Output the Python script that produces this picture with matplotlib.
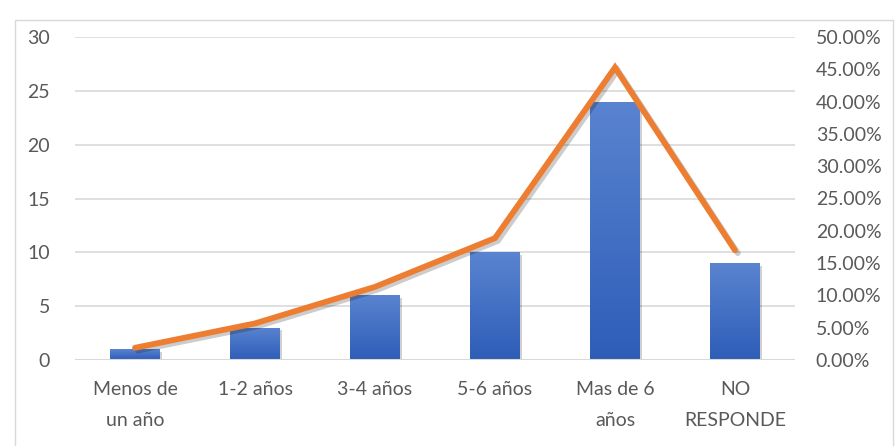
import matplotlib
matplotlib.use("Agg")
import matplotlib.pyplot as plt
import matplotlib.patheffects as pe
from matplotlib.patches import Rectangle
from matplotlib.ticker import FuncFormatter, MultipleLocator
import numpy as np

categories = ["Menos de\nun año", "1-2 años", "3-4 años", "5-6 años", "Mas de 6\naños", "NO\nRESPONDE"]
counts = [1, 3, 6, 10, 24, 9]
total = sum(counts)
shares = [c / total for c in counts]

plt.rcParams["font.family"] = ["Lato", "DejaVu Sans"]
text_color = "#595959"
grid_color = "#D9D9D9"
bar_color = "#4472C4"
line_color = "#ED7D31"
label_size = 14

W, H, DPI = 896, 446, 100
fig = plt.figure(figsize=(W / DPI, H / DPI), dpi=DPI)

# chart area border
fig.patches.append(Rectangle((15 / W, -0.05), (893 - 15) / W, 1.05 - 20 / H,
                             transform=fig.transFigure, fill=False,
                             edgecolor=grid_color, linewidth=1.0))

ax = fig.add_axes([75 / W, 1 - 360 / H, 720 / W, (360 - 37) / H])
x = np.arange(len(categories))

ax.set_xlim(-0.5, len(categories) - 0.5)
ax.set_ylim(0, 30)
ax.yaxis.set_major_locator(MultipleLocator(5))
ax.grid(axis="y", color=grid_color, linewidth=1.2, zorder=0)
ax.set_axisbelow(True)
for s in ax.spines.values():
    s.set_visible(False)

# gradient-filled bars
grad = np.linspace(0, 1, 256).reshape(-1, 1)
cmap = matplotlib.colors.LinearSegmentedColormap.from_list("barfill", ["#2E5DB8", "#5A84D0"])
bars = ax.bar(x, counts, width=0.41, color=bar_color, zorder=2,
              path_effects=[pe.SimplePatchShadow(offset=(2, -2), shadow_rgbFace="#000000", alpha=0.18), pe.Normal()])
for b in bars:
    x0, y0 = b.get_x(), b.get_y()
    im = ax.imshow(grad, extent=(x0, x0 + b.get_width(), y0, y0 + b.get_height()),
                   origin="lower", cmap=cmap, aspect="auto", zorder=3)
    im.set_clip_path(b)

ax.axhline(0, color=grid_color, linewidth=1.5, zorder=4)
ax.set_xticks(x)
ax.set_xticklabels(categories, fontsize=label_size, color=text_color, linespacing=2.0)
ax.tick_params(axis="x", length=0, pad=15)
ax.tick_params(axis="y", length=0, pad=18, labelsize=label_size, labelcolor=text_color)

ax2 = ax.twinx()
ax2.set_ylim(0, 0.5)
ax2.yaxis.set_major_locator(MultipleLocator(0.05))
ax2.yaxis.set_major_formatter(FuncFormatter(lambda v, p: f"{v * 100:.2f}%"))
ax2.tick_params(axis="y", length=0, pad=15, labelsize=label_size, labelcolor=text_color)
for s in ax2.spines.values():
    s.set_visible(False)
ax2.plot(x, shares, color=line_color, linewidth=4.2, solid_capstyle="round",
         solid_joinstyle="miter", zorder=5,
         path_effects=[pe.SimpleLineShadow(offset=(2, -2), shadow_color="#000000", alpha=0.2), pe.Normal()])

fig.savefig("out.png", dpi=DPI)
